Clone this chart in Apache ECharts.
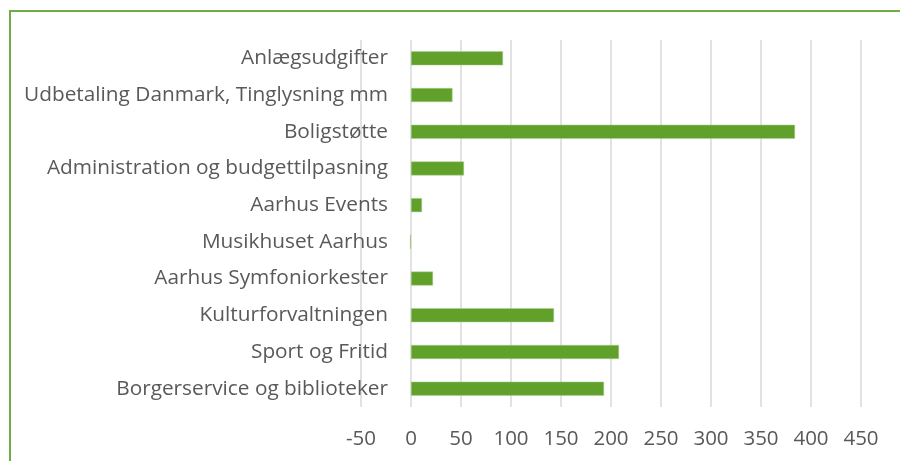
<!DOCTYPE html>
<html>
<head>
<meta charset="utf-8">
<script src="https://cdn.jsdelivr.net/npm/echarts@6/dist/echarts.min.js"></script>
<style>
  html, body { margin: 0; padding: 0; background: #fff; }
  #chart { width: 900px; height: 461px; }
</style>
</head>
<body>
<div id="chart"></div>
<script>
// categories listed bottom to top (as ECharts draws a category y axis)
var categories = [
  'Borgerservice og biblioteker',
  'Sport og Fritid',
  'Kulturforvaltningen',
  'Aarhus Symfoniorkester',
  'Musikhuset Aarhus',
  'Aarhus Events',
  'Administration og budgettilpasning',
  'Boligstøtte',
  'Udbetaling Danmark, Tinglysning mm',
  'Anlægsudgifter'
];
var values = [193, 208, 143, 22, -1, 11, 53, 384, 41.5, 92];
var xMin = -50, xMax = 450, xStep = 50;

var chart = echarts.init(document.getElementById('chart'));
chart.setOption({
  animation: false,
  textStyle: { fontFamily: 'Open Sans' },
  grid: { left: 361, right: 39, top: 40, bottom: 54, containLabel: false },
  xAxis: {
    type: 'value',
    min: xMin, max: xMax, interval: xStep,
    axisLine: { show: false },
    axisTick: { show: false },
    axisLabel: { color: '#595959', fontSize: 20.5, margin: 22 },
    splitLine: { lineStyle: { color: '#d9d9d9', width: 1.5 } }
  },
  yAxis: {
    type: 'category',
    data: categories,
    axisLine: { show: false },
    axisTick: { show: false },
    axisLabel: { color: '#595959', fontSize: 20.8, margin: -27 },
    splitLine: { show: false }
  },
  series: [{
    type: 'bar',
    data: values,
    barWidth: 14,
    itemStyle: { color: '#62a02c', borderColor: '#a9d18e', borderWidth: 0.5 }
  }],
  graphic: [{
    type: 'rect',
    shape: { x: 10, y: 11, width: 1000, height: 1000 },
    style: { fill: 'none', stroke: '#70ad47', lineWidth: 2 }
  }]
});
</script>
</body>
</html>
